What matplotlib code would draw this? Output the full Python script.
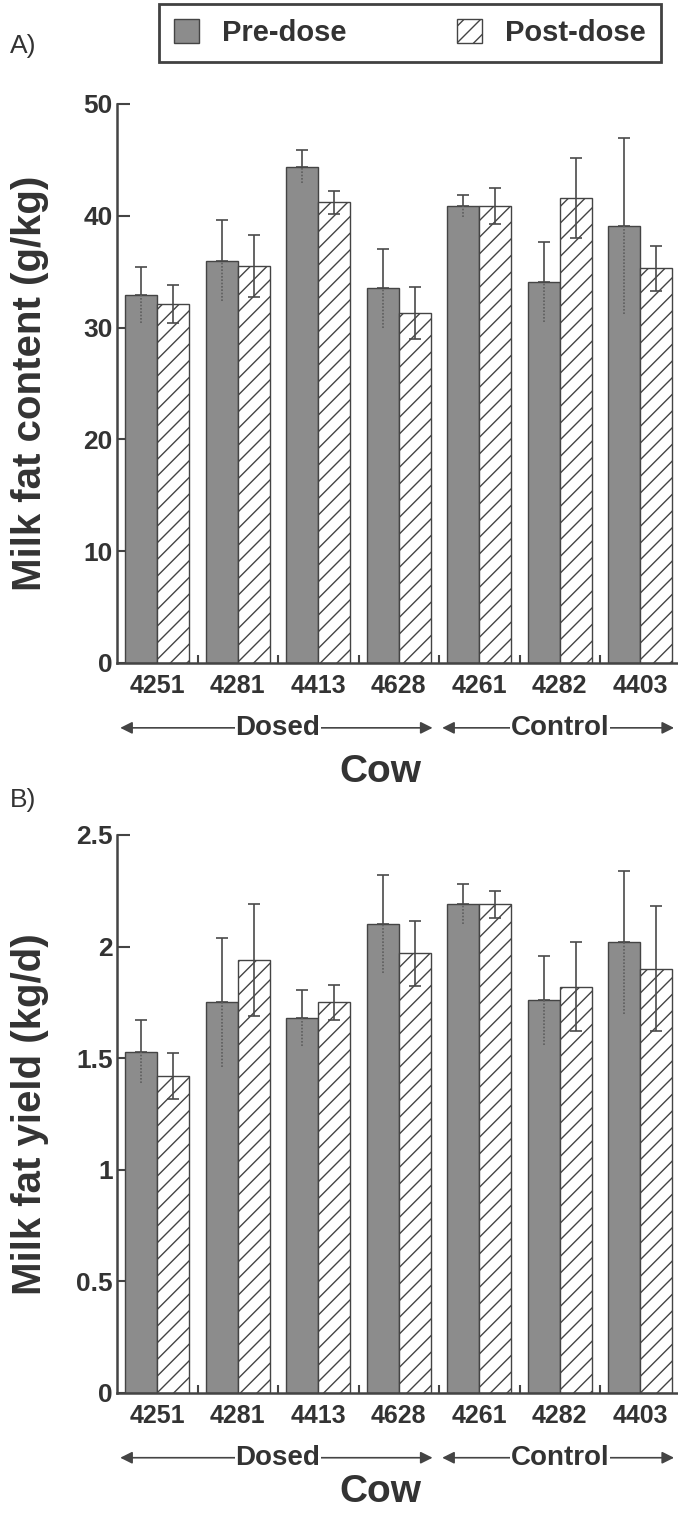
import matplotlib
matplotlib.use("Agg")
import matplotlib.pyplot as plt
from matplotlib.patches import Patch
import numpy as np

plt.rcParams['font.family'] = ['Liberation Sans', 'DejaVu Sans']
plt.rcParams['hatch.linewidth'] = 1.0

cows = ['4251', '4281', '4413', '4628', '4261', '4282', '4403']
groups = ['Dosed', 'Control']
group_span = [(0, 3), (4, 6)]

fat_pre = [32.9, 36.0, 44.4, 33.5, 40.9, 34.1, 39.1]
fat_pre_err = [2.5, 3.6, 1.5, 3.5, 1.0, 3.6, 7.9]
fat_post = [32.1, 35.5, 41.2, 31.3, 40.9, 41.6, 35.3]
fat_post_err = [1.7, 2.8, 1.0, 2.3, 1.6, 3.6, 2.0]

yield_pre = [1.53, 1.75, 1.68, 2.10, 2.19, 1.76, 2.02]
yield_pre_err = [0.14, 0.29, 0.125, 0.22, 0.09, 0.20, 0.32]
yield_post = [1.42, 1.94, 1.75, 1.97, 2.19, 1.82, 1.90]
yield_post_err = [0.105, 0.25, 0.078, 0.146, 0.06, 0.20, 0.28]

fat_ticks = [0, 10, 20, 30, 40, 50]
fat_ticklabels = ['0', '10', '20', '30', '40', '50']
yield_ticks = [0, 0.5, 1, 1.5, 2, 2.5]
yield_ticklabels = ['0', '0.5', '1', '1.5', '2', '2.5']

W, H = 678, 1513
DPI = 100
fig = plt.figure(figsize=(W / DPI, H / DPI), dpi=DPI)
fig.patch.set_facecolor('white')

TXT = '#333333'
EDGE = '#444444'
PRE = '#8c8c8c'


def px_axes(left, top, right, bottom):
    return fig.add_axes([left / W, 1 - bottom / H, (right - left) / W, (bottom - top) / H])


def panel(ax, pre, pre_err, post, post_err, ticks, ticklabels, ylim, ylabel, cow_y):
    x = np.arange(len(cows))
    w = 0.4
    zeros = np.zeros(len(cows))
    ax.bar(x - w / 2, pre, w, color=PRE, edgecolor=EDGE, linewidth=1.0, zorder=2)
    ax.bar(x + w / 2, post, w, color='white', edgecolor=EDGE, hatch='//', linewidth=1.0, zorder=2)
    # pre-dose: solid upper whisker, faint dotted lower whisker inside the bar
    ax.errorbar(x - w / 2, pre, yerr=[zeros, pre_err], fmt='none', ecolor='#4a4a4a',
                elinewidth=1.2, capsize=4, capthick=1.2, zorder=3)
    low = ax.errorbar(x - w / 2, pre, yerr=[pre_err, zeros], fmt='none', ecolor='#5e5e5e',
                      elinewidth=1.2, capsize=0, zorder=3)
    for lc in low[2]:
        lc.set_linestyle((0, (1, 1)))
    ax.errorbar(x + w / 2, post, yerr=post_err, fmt='none', ecolor='#4a4a4a', elinewidth=1.2,
                capsize=4, capthick=1.2, zorder=3)
    ax.set_xlim(-0.5, len(cows) - 0.5)
    ax.set_ylim(*ylim)
    ax.set_yticks(ticks)
    ax.set_yticklabels(ticklabels, fontsize=19, fontweight='bold', color=TXT)
    ax.set_xticks(x)
    ax.set_xticklabels(cows, fontsize=18, fontweight='bold', color=TXT)
    ax.set_xticks(x[:-1] + 0.5, minor=True)
    ax.tick_params(axis='x', which='major', length=0, pad=8)
    ax.tick_params(axis='x', which='minor', direction='in', length=6, width=1.5, color=EDGE)
    ax.tick_params(axis='y', direction='in', length=9, width=1.5, color=EDGE, pad=3)
    for s in ['top', 'right']:
        ax.spines[s].set_visible(False)
    for s in ['left', 'bottom']:
        ax.spines[s].set_linewidth(1.8)
        ax.spines[s].set_color(EDGE)
    ax.set_ylabel(ylabel, fontsize=29, fontweight='bold', color=TXT)
    ax.yaxis.set_label_coords(-0.12, 0.5)
    # group annotations
    trans = ax.get_xaxis_transform()
    for name, (a, b) in zip(groups, group_span):
        ax.annotate('', xy=(a - 0.46, -0.116), xytext=(b + 0.42, -0.116), xycoords=trans,
                    textcoords=trans,
                    arrowprops=dict(arrowstyle='<|-|>', color='#444444', lw=1.2,
                                    mutation_scale=18, shrinkA=0, shrinkB=0),
                    annotation_clip=False)
        ax.text((a + b) / 2, -0.116, name, transform=trans, ha='center', va='center',
                fontsize=20, fontweight='bold', color=TXT,
                bbox=dict(facecolor='white', edgecolor='none', pad=0.5))
    fig.text(380 / W, 1 - cow_y / H, 'Cow', ha='center', va='center',
             fontsize=28, fontweight='bold', color=TXT)


axA = px_axes(117, 104, 680.5, 663)
panel(axA, fat_pre, fat_pre_err, fat_post, fat_post_err, fat_ticks, fat_ticklabels,
      (0, 50), 'Milk fat content (g/kg)', 772)
axB = px_axes(117, 835, 680.5, 1393)
panel(axB, yield_pre, yield_pre_err, yield_post, yield_post_err, yield_ticks, yield_ticklabels,
      (0, 2.5), 'Milk fat yield (kg/d)', 1492)

fig.text(10 / W, 1 - 46 / H, 'A)', fontsize=19, color=TXT, ha='left', va='center')
fig.text(10 / W, 1 - 800 / H, 'B)', fontsize=19, color=TXT, ha='left', va='center')

handles = [Patch(facecolor=PRE, edgecolor=EDGE, label='Pre-dose'),
           Patch(facecolor='white', edgecolor=EDGE, hatch='//', label='Post-dose')]
leg = fig.legend(handles=handles, loc='center', bbox_to_anchor=(410 / W, 1 - 33 / H), ncol=2,
                 frameon=True, fancybox=False, handlelength=0.85, handleheight=0.85,
                 columnspacing=3.8, handletextpad=0.8, borderpad=0.5,
                 prop=dict(size=21, weight='bold'))
leg.get_frame().set_edgecolor('#111111')
leg.get_frame().set_linewidth(2.0)
for t in leg.get_texts():
    t.set_color(TXT)

fig.savefig('out.png', dpi=DPI, facecolor='white')
